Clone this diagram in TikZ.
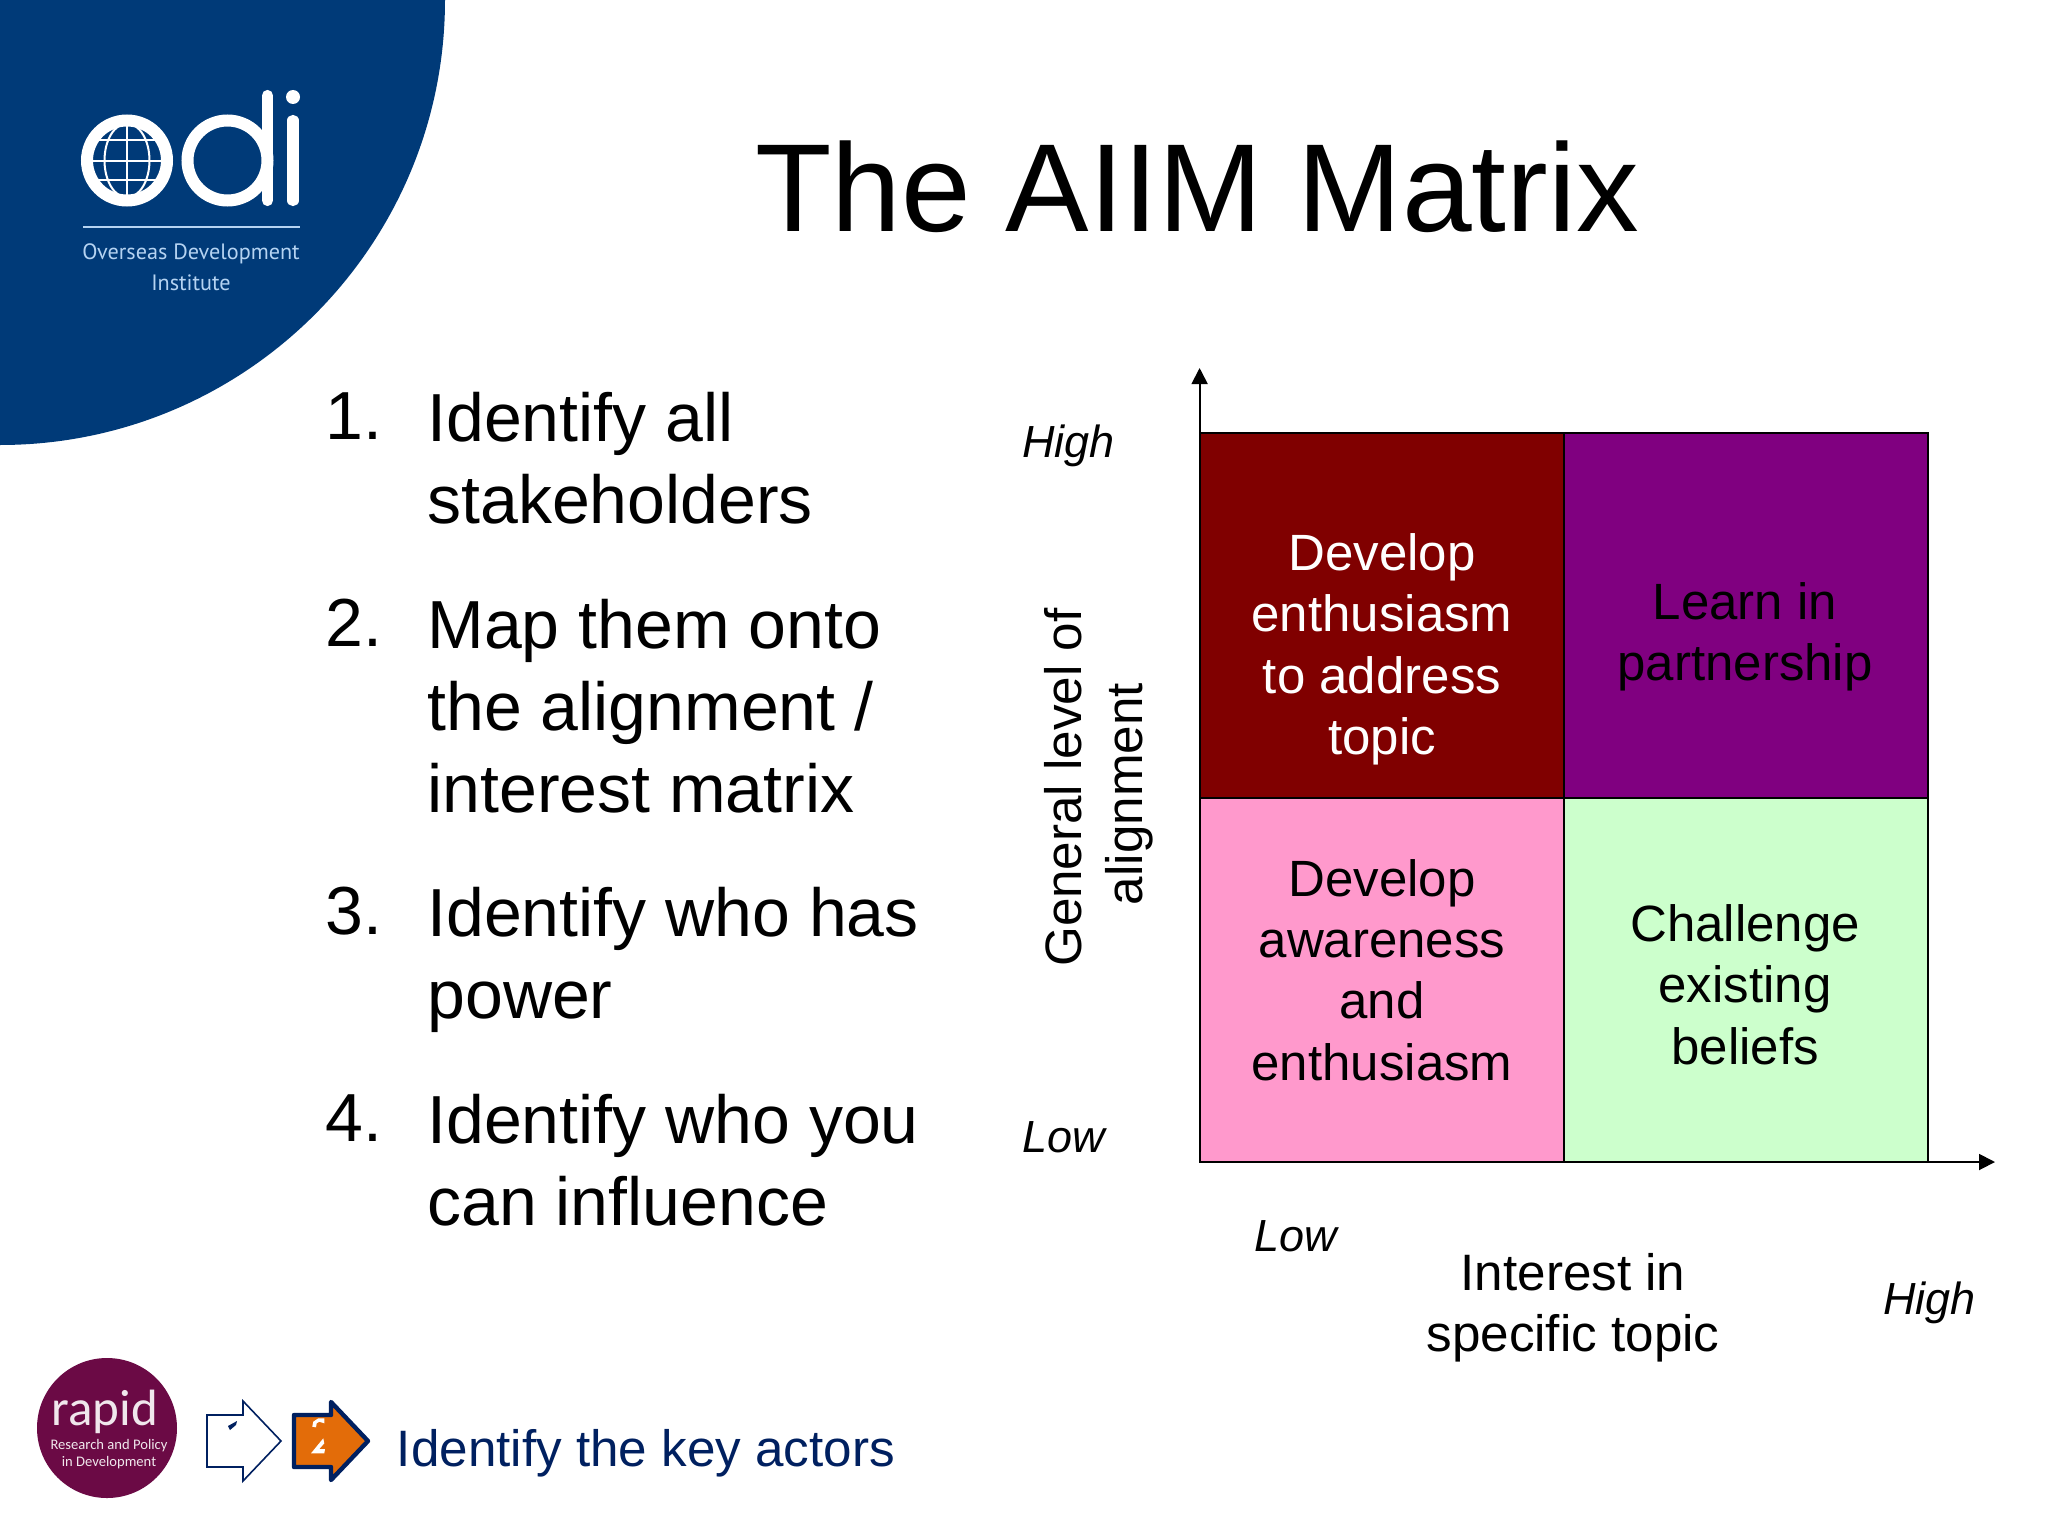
\documentclass[tikz,border=0pt]{standalone}
\usepackage{fontspec}
\setmainfont{Liberation Sans}
\newfontfamily\logofont{PT Sans}
\newfontfamily\rapidfont{Carlito}
\usetikzlibrary{arrows.meta}
\definecolor{odiblue}{HTML}{003A78}
\definecolor{odilight}{HTML}{B5D3F2}
\definecolor{rapidc}{HTML}{6B0A45}
\definecolor{navyc}{HTML}{002060}
\definecolor{cellred}{HTML}{800000}
\definecolor{cellpurple}{HTML}{800080}
\definecolor{cellpink}{HTML}{FF99CC}
\definecolor{cellgreen}{HTML}{CCFFCC}
\definecolor{orangec}{HTML}{E36C09}
\newcommand{\fs}[2]{\fontsize{#1pt}{#2pt}\selectfont}
\tikzset{
  cellbox/.style={draw=black,line width=0.9pt,minimum width=182.2pt,minimum height=182.2pt,inner sep=0pt,outer sep=0pt},
  celltext/.style={inner sep=0pt,align=center,font=\fs{25.5}{30.7}},
  listnum/.style={anchor=north west,inner sep=0pt,font=\fs{34}{41}},
  listtext/.style={anchor=north west,inner sep=0pt,align=left,font=\fs{34}{41}},
  axislabel/.style={inner sep=0pt,align=center,font=\fs{25.6}{30.7}},
  scalelabel/.style={inner sep=0pt,anchor=west,font=\fs{22.5}{26}\itshape},
  axisline/.style={draw=black,line width=0.9pt,-{Triangle[length=8pt,width=8pt]}},
  logoline/.style={draw=white,line cap=round,line width=5.6pt},
  globeline/.style={draw=white,line width=1pt}
}
\begin{document}
\begin{tikzpicture}[x=0.5pt,y=-0.5pt]
\useasboundingbox (0,0) rectangle (2048,1536);
\fill[white] (0,0) rectangle (2048,1536);
% ODI quarter disc
\begin{scope}
\clip (0,0) rectangle (2048,1536);
\fill[odiblue] (0,0) circle[radius=445];
\end{scope}
% o with globe
\draw[white,line width=6pt] (127,160.5) circle[radius=40];
\begin{scope}
\clip (127,160.5) circle[radius=37];
\draw[globeline] (127,122) -- (127,200);
\draw[globeline] (90,160.5) -- (164,160.5);
\draw[globeline] (90,140) -- (164,140);
\draw[globeline] (90,180) -- (164,180);
\draw[globeline] (127,160.5) ellipse[x radius=22.5,y radius=37];
\end{scope}
% d
\draw[white,line width=6pt] (227.5,160.5) circle[radius=40];
\draw[logoline] (267.5,95.5) -- (267.5,200.5);
% i
\draw[logoline] (293,120.5) -- (293,200.5);
\fill[white] (293,97) circle[radius=7];
\draw[odilight,line width=1.2pt] (83,227) -- (300,227);
\node[inner sep=0pt,text=odilight,font=\logofont\fs{11.1}{14}] (odione) at (191,254) {Overseas Development};
\node[inner sep=0pt,text=odilight,font=\logofont\fs{11.1}{14}] (oditwo) at (191,283) {Institute};
% title
\node[inner sep=0pt,font=\fs{62.6}{70}] (title) at (1197,187) {The AIIM Matrix};
% list
\node[listnum] (n1) at (325,392) {1.};
\node[listtext] (t1) at (427,392) {Identify all\\stakeholders};
\node[listnum] (n2) at (325,599) {2.};
\node[listtext] (t2) at (427,599) {Map them onto\\the alignment /\\interest matrix};
\node[listnum] (n3) at (325,887) {3.};
\node[listtext] (t3) at (427,887) {Identify who has\\power};
\node[listnum] (n4) at (325,1094) {4.};
\node[listtext] (t4) at (427,1094) {Identify who you\\can influence};
% matrix
\node[cellbox,fill=cellred] (tl) at (1381.8,615.4) {};
\node[cellbox,fill=cellpurple] (tr) at (1746,615.4) {};
\node[cellbox,fill=cellpink] (bl) at (1381.8,979.8) {};
\node[cellbox,fill=cellgreen] (br) at (1746,979.8) {};
\node[celltext,text=white] (tltext) at (1382,649.5) {Develop\\enthusiasm\\to address\\topic};
\node[celltext,text=black] (trtext) at (1745,637) {Learn in\\partnership};
\node[celltext] (bltext) at (1382,970) {Develop\\awareness\\and\\enthusiasm};
\node[celltext] (brtext) at (1745,984.5) {Challenge\\existing\\beliefs};
\coordinate (ytip) at (1199.6,368);
\coordinate (xtip) at (1995,1162);
\draw[axisline] (tl.north west) -- (tl.north west |- ytip);
\draw[axisline] (br.south east) -- (br.south east -| xtip);
\node[axislabel,rotate=90] (ylab) at (1099,787.5) {General level of\\alignment\hspace*{6.5pt}};
\node[axislabel] (xlab) at (1573,1308) {Interest in\\specific topic};
\node[scalelabel] (yhigh) at (1022,446) {High};
\node[scalelabel] (ylow) at (1022,1137) {Low};
\node[scalelabel] (xlow) at (1254,1236) {Low};
\node[scalelabel] (xhigh) at (1883,1303) {High};
% rapid logo
\fill[rapidc] (107,1428) circle[radius=70];
\node[inner sep=0pt,text=white!90!rapidc,font=\rapidfont\fs{25.5}{30}] (rapidname) at (105,1412) {rapid};
\node[inner sep=0pt,text=white!90!rapidc,font=\rapidfont\fs{7.3}{9}] (rapidone) at (109,1446) {Research and Policy};
\node[inner sep=0pt,text=white!90!rapidc,font=\rapidfont\fs{7.3}{9}] (rapidtwo) at (109,1463) {in Development};
% step arrows
\draw[navyc,line width=0.8pt,fill=white,line join=miter] (207,1415) -- (243,1415) -- (243,1401) -- (281,1441) -- (243,1481) -- (243,1467) -- (207,1467) -- cycle;
\fill[navyc] (228,1426) -- (237,1421) -- (236,1425) -- (230,1430) -- cycle;
\draw[navyc,line width=2.2pt,fill=orangec,line join=round] (294,1415) -- (331,1415) -- (331,1402) -- (368,1441) -- (331,1480) -- (331,1467) -- (294,1467) -- cycle;
\fill[white] (312.3,1426.7) -- (313.3,1421.7) -- (318.3,1418.3) -- (324.3,1418.3) -- (324.3,1423.3) -- (319.3,1421.7) -- (316.7,1423.3) -- (316,1427.3) -- cycle;
\fill[white] (311,1453.3) -- (323.3,1438.3) -- (324.3,1443.3) -- (319.3,1449) -- (325,1449) -- (324.3,1453.3) -- cycle;
% footer text
\node[inner sep=0pt,anchor=west,text=navyc,font=\fs{25.6}{30}] (footer) at (396.5,1453) {Identify the key actors};
\end{tikzpicture}
\end{document}
